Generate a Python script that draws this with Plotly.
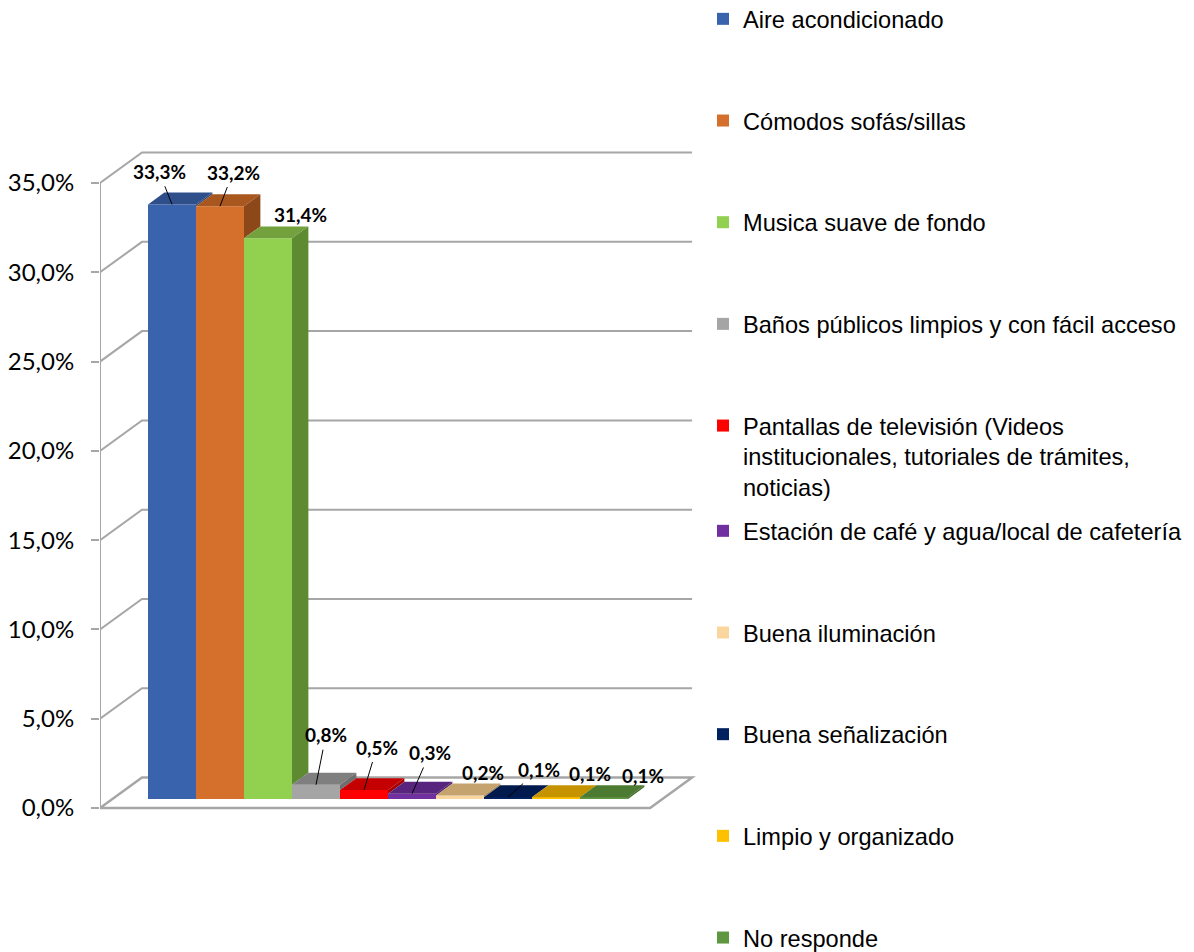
import plotly.graph_objects as go

# ---------------- data ----------------
categories = [
    "Aire acondicionado",
    "Cómodos sofás/sillas",
    "Musica suave de fondo",
    "Baños públicos limpios y con fácil acceso",
    "Pantallas de televisión (Videos<br>institucionales, tutoriales de trámites,<br>noticias)",
    "Estación de café y agua/local de cafetería",
    "Buena iluminación",
    "Buena señalización",
    "Limpio y organizado",
    "No responde",
]
values = [33.3, 33.2, 31.4, 0.8, 0.5, 0.3, 0.2, 0.1, 0.1, 0.1]
value_labels = ["33,3%", "33,2%", "31,4%", "0,8%", "0,5%", "0,3%", "0,2%", "0,1%", "0,1%", "0,1%"]
tick_values = [0, 5, 10, 15, 20, 25, 30, 35]
tick_labels = ["0,0%", "5,0%", "10,0%", "15,0%", "20,0%", "25,0%", "30,0%", "35,0%"]

# ---------------- styles ----------------
front_colors = ["#3A63AD", "#D46F2C", "#92D050", "#A5A5A5", "#FF0000",
                "#7030A0", "#FBD59E", "#002060", "#FFC000", "#5F9640"]
top_colors = ["#2F4F8B", "#A8571F", "#72A13E", "#7F7F7F", "#C40000",
              "#57257D", "#C4A36E", "#001A4E", "#C59300", "#4C7A30"]
side_colors = ["#2A467C", "#8C4819", "#5E8A32", "#6E6E6E", "#A80000",
               "#4A1F6B", "#A8895B", "#001540", "#A87D00", "#416A29"]
# label offsets (pixels) relative to the top-front centre of each bar
label_dx = [-13, 13, 32, 10, 13, 18, 23, 31, 34, 39]
label_dy = [-33, -34, -24, -50, -43, -41, -23, -28, -24, -22]
label_leader = [True, True, False, True, True, True, False, True, False, False]

GRID = "#A6A6A6"
# pseudo-3D projection (axis units)
KX, KY = 0.875, 1.708          # full depth offset of the chart box
DF, DD = 0.295, 0.39           # bar front depth, bar thickness (fraction of box depth)
X_LEFT, X_RIGHT = -1.5, 9.96   # front edge of the floor

base = DF * KY
sx, sy = DD * KX, DD * KY


def path(xs, ys, close=False):
    p = "M " + " L ".join(f"{x},{y}" for x, y in zip(xs, ys))
    return p + (" Z" if close else "")


fig = go.Figure()
shapes = []
# back wall gridlines + left wall diagonals
for t in tick_values[1:]:
    shapes.append(dict(type="path", xref="x", yref="y", layer="below",
                       path=path([X_LEFT, X_LEFT + KX, X_RIGHT + KX], [t, t + KY, t + KY]),
                       line=dict(color=GRID, width=2)))
# floor
shapes.append(dict(type="path", xref="x", yref="y", layer="below",
                   path=path([X_LEFT, X_RIGHT, X_RIGHT + KX, X_LEFT + KX],
                             [0, 0, KY, KY], close=True),
                   fillcolor="white", line=dict(color=GRID, width=2.5)))
# front vertical axis
shapes.append(dict(type="line", xref="x", yref="y", layer="below",
                   x0=X_LEFT, x1=X_LEFT, y0=0, y1=tick_values[-1],
                   line=dict(color=GRID, width=2)))

n = len(values)
# bar front faces
for i, (cat, v) in enumerate(zip(categories, values)):
    fig.add_trace(go.Bar(
        x=[i], y=[v], base=[base], width=1, name=cat,
        marker=dict(color=front_colors[i], line=dict(width=0)),
        legend="legend" if i < 5 else "legend2",
        legendgroup=f"g{i}", hoverinfo="skip"))

# bar tops and visible side faces
for i, v in enumerate(values):
    top = base + v
    fig.add_trace(go.Scatter(
        x=[i - 0.5, i + 0.5, i + 0.5 + sx, i - 0.5 + sx, i - 0.5],
        y=[top, top, top + sy, top + sy, top],
        mode="lines", fill="toself", fillcolor=top_colors[i],
        line=dict(width=0, color=top_colors[i]), hoverinfo="skip", showlegend=False))
    if i + 1 < n and values[i + 1] >= v:
        continue
    low = base + (values[i + 1] if i + 1 < n else 0)
    fig.add_trace(go.Scatter(
        x=[i + 0.5, i + 0.5 + sx, i + 0.5 + sx, i + 0.5, i + 0.5],
        y=[low, low + sy, top + sy, top, low],
        mode="lines", fill="toself", fillcolor=side_colors[i],
        line=dict(width=0, color=side_colors[i]), hoverinfo="skip", showlegend=False))

# data labels
annotations = []
for i, v in enumerate(values):
    annotations.append(dict(
        x=i, y=base + v, xref="x", yref="y", text=f"<b>{value_labels[i]}</b>",
        showarrow=True, ax=label_dx[i], ay=label_dy[i],
        arrowhead=0, arrowwidth=1, arrowcolor="black" if label_leader[i] else "rgba(0,0,0,0)",
        standoff=0, startstandoff=2,
        font=dict(family="Lato", size=19, color="black")))

legend_common = dict(
    xref="paper", yref="paper", xanchor="left", yanchor="top",
    font=dict(family="Liberation Sans", size=23.6, color="black"),
    tracegroupgap=68, valign="top", bgcolor="rgba(0,0,0,0)",
    itemclick=False, itemdoubleclick=False, maxheight=1.0)

fig.update_layout(
    width=1186, height=944,
    paper_bgcolor="white", plot_bgcolor="white",
    margin=dict(l=92, r=494, t=122, b=122, autoexpand=False),
    barmode="overlay",
    xaxis=dict(range=[-1.5, 11.0], visible=False, fixedrange=True),
    yaxis=dict(range=[-1.232, 37.97], tickvals=tick_values, ticktext=tick_labels,
               showgrid=False, zeroline=False, showline=False,
               ticks="outside", ticklen=8, tickwidth=2, tickcolor=GRID,
               ticklabelstandoff=12, fixedrange=True,
               tickfont=dict(family="Lato", size=24, color="black")),
    legend=dict(x=1.005, y=1.19, **legend_common),
    legend2=dict(x=1.005, y=0.4586, **legend_common),
    shapes=shapes,
    annotations=annotations,
    showlegend=True,
)

fig.write_html("out.html")
